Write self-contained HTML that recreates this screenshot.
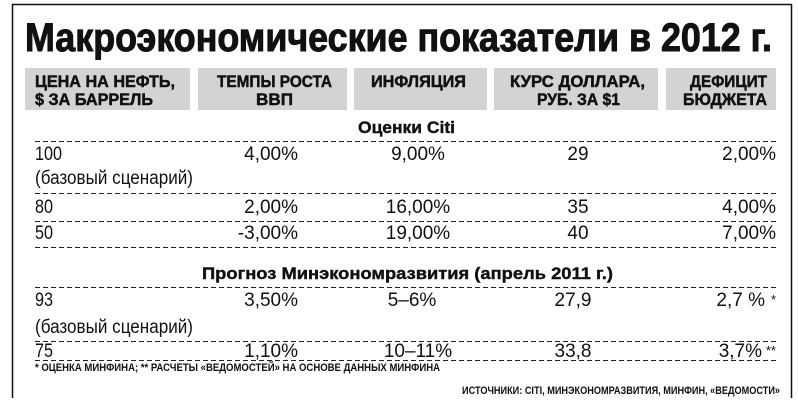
<!DOCTYPE html>
<html><head><meta charset="utf-8"><style>
html,body{margin:0;padding:0;background:#fff;}
svg{display:block;}
text{font-family:"Liberation Sans Narrow","Liberation Sans",sans-serif;fill:#111;}
.h{font-weight:bold;font-size:17px;stroke:#111;stroke-width:0.5px;}
.d{font-size:19px;}
.s{font-weight:bold;font-size:17px;stroke:#111;stroke-width:0.4px;}
.f{font-weight:bold;font-size:11px;}
</style></head><body>
<svg width="798" height="413" viewBox="0 0 798 413" xmlns="http://www.w3.org/2000/svg">
<rect width="798" height="413" fill="#fff"/>
<path d="M12.5 398 V4.5 H791.5 V398" fill="none" stroke="#111" stroke-width="1.5"/>
<text x="25" y="51" style="font-weight:bold;font-size:40px;stroke:#111;stroke-width:1px" textLength="747" lengthAdjust="spacingAndGlyphs">Макроэкономические показатели в 2012 г.</text>
<g fill="#d2d3d5">
<rect x="25" y="68" width="165" height="42"/>
<rect x="198" y="68" width="149" height="42"/>
<rect x="354" y="68" width="133" height="42"/>
<rect x="494" y="68" width="164" height="42"/>
<rect x="666" y="68" width="110" height="42"/>
</g>
<text class="h" x="35" y="87" textLength="140" lengthAdjust="spacingAndGlyphs">ЦЕНА НА НЕФТЬ,</text>
<text class="h" x="35" y="105" textLength="118" lengthAdjust="spacingAndGlyphs">$ ЗА БАРРЕЛЬ</text>
<text class="h" x="217" y="87" textLength="115" lengthAdjust="spacingAndGlyphs">ТЕМПЫ РОСТА</text>
<text class="h" x="256" y="105" textLength="37" lengthAdjust="spacingAndGlyphs">ВВП</text>
<text class="h" x="371" y="87" textLength="95" lengthAdjust="spacingAndGlyphs">ИНФЛЯЦИЯ</text>
<text class="h" x="510" y="87" textLength="135" lengthAdjust="spacingAndGlyphs">КУРС ДОЛЛАРА,</text>
<text class="h" x="537" y="105" textLength="83" lengthAdjust="spacingAndGlyphs">РУБ. ЗА $1</text>
<text class="h" x="690" y="87" textLength="77" lengthAdjust="spacingAndGlyphs">ДЕФИЦИТ</text>
<text class="h" x="683" y="105" textLength="84" lengthAdjust="spacingAndGlyphs">БЮДЖЕТА</text>
<g stroke="#222" stroke-width="1" stroke-dasharray="5,3">
<line x1="35" x2="776" y1="141.5" y2="141.5"/>
<line x1="35" x2="776" y1="193.5" y2="193.5"/>
<line x1="35" x2="776" y1="221.5" y2="221.5"/>
<line x1="35" x2="776" y1="247.5" y2="247.5"/>
<line x1="35" x2="776" y1="287.5" y2="287.5"/>
<line x1="35" x2="776" y1="341.5" y2="341.5"/>
<line x1="35" x2="776" y1="360.5" y2="360.5"/>
</g>
<text class="s" x="358" y="133" textLength="97" lengthAdjust="spacingAndGlyphs">Оценки Citi</text>
<text class="s" x="202" y="279" textLength="411" lengthAdjust="spacingAndGlyphs">Прогноз Минэкономразвития (апрель 2011 г.)</text>
<g class="d">
<text x="35" y="160" textLength="27" lengthAdjust="spacingAndGlyphs">100</text>
<text x="35" y="184" textLength="158" lengthAdjust="spacingAndGlyphs">(базовый сценарий)</text>
<text x="35" y="213" textLength="18" lengthAdjust="spacingAndGlyphs">80</text>
<text x="35" y="239" textLength="18" lengthAdjust="spacingAndGlyphs">50</text>
<text x="35" y="306" textLength="18" lengthAdjust="spacingAndGlyphs">93</text>
<text x="35" y="333" textLength="158" lengthAdjust="spacingAndGlyphs">(базовый сценарий)</text>
<text x="35" y="357" textLength="18" lengthAdjust="spacingAndGlyphs">75</text>
</g>
<g class="d" text-anchor="end">
<text x="298" y="160">4,00%</text>
<text x="298" y="213">2,00%</text>
<text x="298" y="239">-3,00%</text>
<text x="298" y="306">3,50%</text>
<text x="298" y="357">1,10%</text>
<text x="776" y="160">2,00%</text>
<text x="776" y="213">4,00%</text>
<text x="776" y="239">7,00%</text>
<text x="765" y="306">2,7 %</text>
<text x="776" y="304" style="font-size:13px">*</text>
<text x="762" y="357">3,7%</text>
<text x="776" y="355" style="font-size:13px">**</text>
</g>
<g class="d" text-anchor="middle">
<text x="418" y="160">9,00%</text>
<text x="418" y="213">16,00%</text>
<text x="418" y="239">19,00%</text>
<text x="412" y="306">5–6%</text>
<text x="418" y="357">10–11%</text>
<text x="578" y="160">29</text>
<text x="578" y="213">35</text>
<text x="578" y="239">40</text>
<text x="573" y="306">27,9</text>
<text x="573" y="357">33,8</text>
</g>
<text class="f" x="35" y="371" textLength="405" lengthAdjust="spacingAndGlyphs">* ОЦЕНКА МИНФИНА; ** РАСЧЕТЫ «ВЕДОМОСТЕЙ» НА ОСНОВЕ ДАННЫХ МИНФИНА</text>
<text class="f" x="462" y="394" textLength="318" lengthAdjust="spacingAndGlyphs">ИСТОЧНИКИ: CITI, МИНЭКОНОМРАЗВИТИЯ, МИНФИН, «ВЕДОМОСТИ»</text>
</svg>
</body></html>
